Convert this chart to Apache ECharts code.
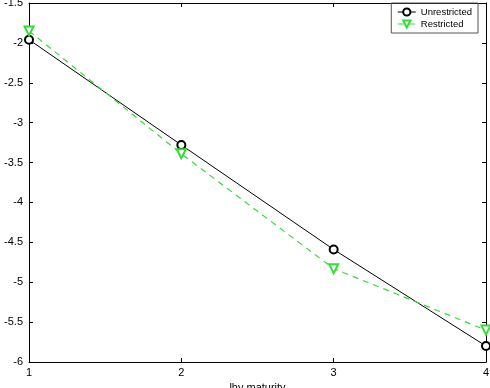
<!DOCTYPE html>
<html>
<head>
<meta charset="utf-8">
<script src="https://cdn.jsdelivr.net/npm/echarts@6/dist/echarts.min.js"></script>
<style>
  html, body { margin: 0; padding: 0; background: #fff; }
  #chart-panel { width: 490px; height: 388px; }
</style>
</head>
<body>
<div id="chart-panel"></div>
<script>
var maturity = [1, 2, 3, 4];
var unrestricted = [-1.96, -3.28, -4.59, -5.80];
var restricted = [-1.85, -3.39, -4.83, -5.60];

function pairs(xs, ys) {
    return xs.map(function (x, i) { return [x, ys[i]]; });
}

var green = '#33dd33';
var font = 'Liberation Sans, Arial, sans-serif';

var myChart = echarts.init(document.getElementById('chart-panel'));
var option = {
    animation: false,
    backgroundColor: '#fff',
    grid: { left: 29, right: 4, top: 3, bottom: 26, outerBoundsMode: 'none', containLabel: false },
    legend: {
        orient: 'vertical',
        right: 12,
        top: 3,
        borderColor: '#555',
        borderWidth: 1,
        padding: [4, 6, 4, 6],
        itemGap: 2,
        itemWidth: 18,
        itemHeight: 9,
        lineStyle: { width: 1 },
        itemStyle: { borderWidth: 1 },
        textStyle: { fontSize: 9.5, color: '#000', fontFamily: font },
        data: ['Unrestricted', 'Restricted']
    },
    xAxis: [{
        type: 'value', min: 1, max: 4, interval: 1,
        name: 'lhv maturity', nameLocation: 'middle', nameGap: 17,
        nameTextStyle: { fontSize: 11, color: '#000', fontFamily: font },
        axisLine: { lineStyle: { color: '#000' } },
        axisTick: { inside: true, length: 4, lineStyle: { color: '#000' } },
        axisLabel: { fontSize: 11, color: '#000', margin: 5, fontFamily: font },
        splitLine: { show: false }
    }, {
        type: 'value', min: 1, max: 4, interval: 1, position: 'top',
        axisLine: { lineStyle: { color: '#000' } },
        axisTick: { inside: true, length: 4, lineStyle: { color: '#000' } },
        axisLabel: { show: false },
        splitLine: { show: false }
    }],
    yAxis: [{
        type: 'value', min: -6, max: -1.5, interval: 0.5,
        axisLine: { show: true, lineStyle: { color: '#000' } },
        axisTick: { show: true, inside: true, length: 4, lineStyle: { color: '#000' } },
        axisLabel: { fontSize: 11, color: '#000', margin: 6, fontFamily: font },
        splitLine: { show: false }
    }, {
        type: 'value', min: -6, max: -1.5, interval: 0.5, position: 'right',
        axisLine: { show: true, lineStyle: { color: '#000' } },
        axisTick: { show: true, inside: true, length: 4, lineStyle: { color: '#000' } },
        axisLabel: { show: false },
        splitLine: { show: false }
    }],
    series: [{
        name: 'Unrestricted',
        type: 'line',
        data: pairs(maturity, unrestricted),
        symbol: 'emptyCircle',
        symbolSize: 8,
        itemStyle: { color: '#000', borderWidth: 1 },
        lineStyle: { color: '#000', width: 1 }
    }, {
        name: 'Restricted',
        type: 'line',
        data: pairs(maturity, restricted),
        symbol: 'emptyTriangle',
        symbolRotate: 180,
        symbolSize: 9,
        itemStyle: { color: green, borderWidth: 1 },
        lineStyle: { color: green, width: 1.2, type: [6, 5] }
    }]
};
myChart.setOption(option);
</script>
</body>
</html>
